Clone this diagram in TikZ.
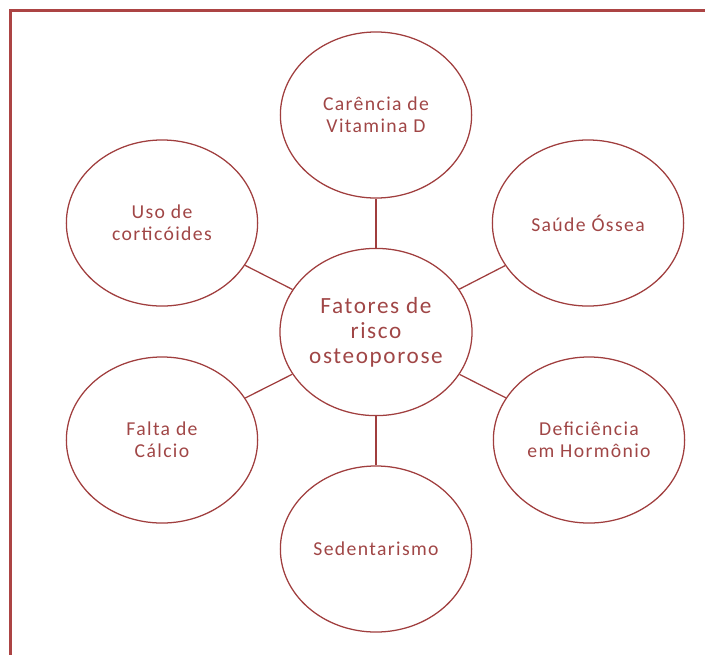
\documentclass[tikz,border=0pt]{standalone}
\usepackage{fontspec}
\setmainfont{Carlito}[LetterSpace=7]
\usepackage{xcolor}
\usetikzlibrary{shapes.geometric}

\definecolor{linha}{RGB}{160,62,62}
\definecolor{texto}{RGB}{160,70,70}
\definecolor{moldura}{RGB}{172,68,68}

\begin{document}
\begin{tikzpicture}[
	x=0.025cm, y=-0.025cm,
	m/.style = {ellipse, draw=linha, line width=0.9pt, minimum width=4.8cm, minimum height=4.18cm, inner sep=0pt, align=center, text=texto, font=\fontsize{16.5}{17.8}\selectfont},
	f/.style = {ellipse, draw=linha, line width=0.9pt, minimum width=4.78cm, minimum height=4.15cm, inner sep=0pt, align=center, text=texto, font=\fontsize{14}{15.6}\selectfont},
	r/.style = {draw=linha, line width=0.9pt}
	]
	
	\useasboundingbox (0,0) rectangle (705,654);
	
	% === === Frame === ===
	\draw[moldura, line width=1.9pt] (10.5,670) -- (10.5,10.5) -- (720,10.5);
	
	
	% === === Nodes === ===
	\node[m]	(centro)	at	(376, 332)	{Fatores de\\risco\\osteoporose};
	
	\node[f]	(vitd)		at	(376, 115)	{Carência de\\Vitamina D};
	\node[f]	(ossea)		at	(588, 223)	{Saúde Óssea};
	\node[f]	(hormonio)	at	(589, 440)	{Deficiência\\em Hormônio};
	\node[f]	(sedent)	at	(376, 549)	{Sedentarismo};
	\node[f]	(calcio)	at	(162, 440)	{Falta de\\Cálcio};
	\node[f]	(cortic)	at	(162, 223)	{Uso de\\corticóides};
	
	
	% === === Lines === ===
	\draw[r]	(centro)	to	(vitd);
	\draw[r]	(centro)	to	(ossea);
	\draw[r]	(centro)	to	(hormonio);
	\draw[r]	(centro)	to	(sedent);
	\draw[r]	(centro)	to	(calcio);
	\draw[r]	(centro)	to	(cortic);
	
	
\end{tikzpicture}
\end{document}
